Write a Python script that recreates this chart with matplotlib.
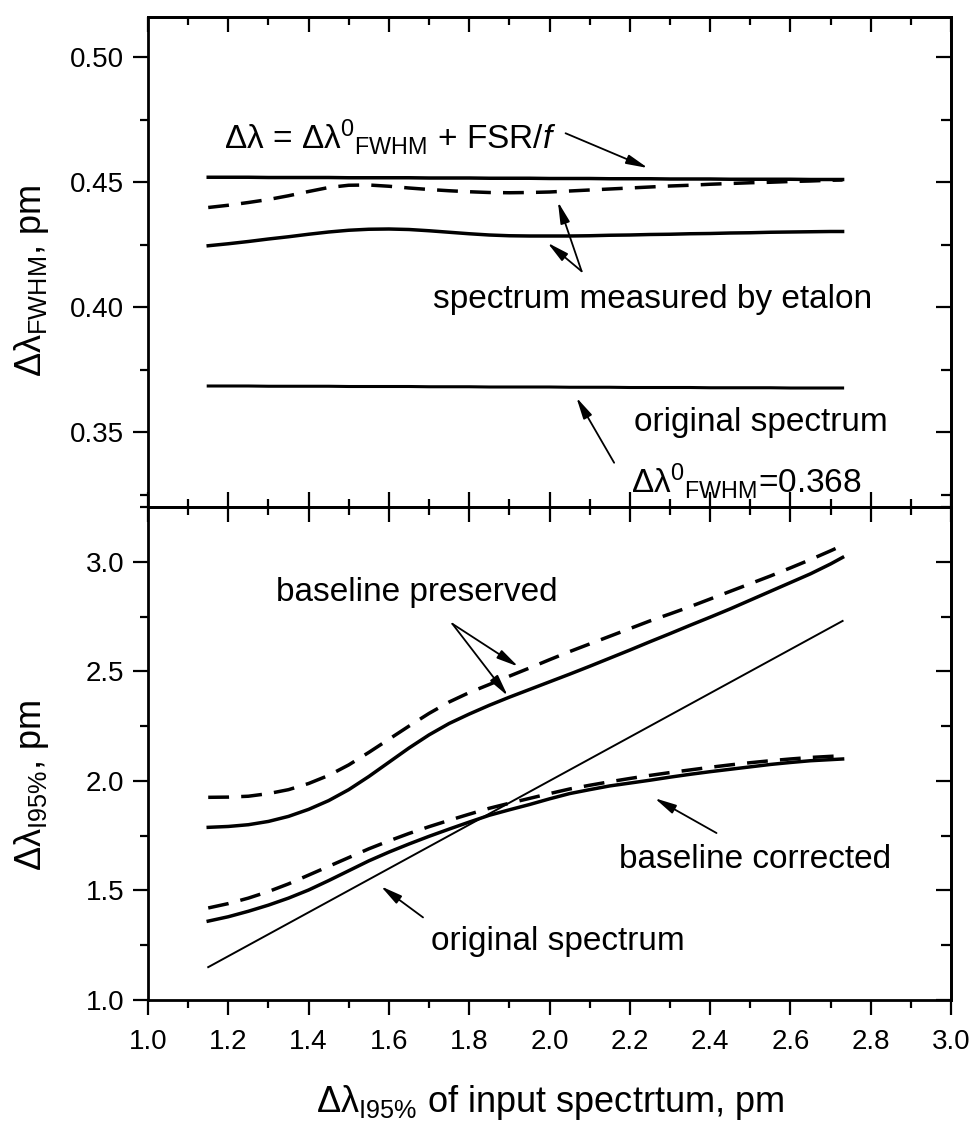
import matplotlib
matplotlib.use("Agg")
import matplotlib.pyplot as plt
from matplotlib.ticker import MultipleLocator, FormatStrFormatter

# ── Style ──────────────────────────────────────────────────────────────────
FONT = "Liberation Sans"
plt.rcParams.update({
    "font.family": [FONT, "DejaVu Sans"],
    "mathtext.fontset": "custom",
    "mathtext.rm": FONT,
    "mathtext.it": FONT + ":italic",
    "mathtext.bf": FONT + ":bold",
    "mathtext.sf": FONT,
    "mathtext.default": "regular",
    "axes.linewidth": 2.0,
})

TICK_SIZE = 20
NOTE_SIZE = 24
LABEL_SIZE = 26
THICK = 2.5
DASH = (6, 3.5)

# ── Data ───────────────────────────────────────────────────────────────────
# input spectral width (pm), shared by every curve
x_in = [1.15, 1.20, 1.25, 1.30, 1.35, 1.40, 1.45, 1.50, 1.55, 1.60, 1.65,
        1.70, 1.75, 1.80, 1.85, 1.90, 1.95, 2.00, 2.05, 2.10, 2.15, 2.20,
        2.25, 2.30, 2.35, 2.40, 2.45, 2.50, 2.55, 2.60, 2.65, 2.70, 2.73]

# upper panel: FWHM (pm)
fwhm_limit = [0.4519, 0.4519, 0.4519, 0.4518, 0.4518, 0.4518, 0.4518, 0.4517, 0.4517,
              0.4517, 0.4517, 0.4516, 0.4516, 0.4516, 0.4515, 0.4515, 0.4515, 0.4514,
              0.4514, 0.4514, 0.4513, 0.4513, 0.4513, 0.4512, 0.4512, 0.4512, 0.4511,
              0.4511, 0.4511, 0.4511, 0.4510, 0.4510, 0.4510]
fwhm_etalon_dash = [0.4398, 0.4407, 0.4418, 0.4430, 0.4445, 0.4462, 0.4478, 0.4487, 0.4488,
                    0.4483, 0.4476, 0.4470, 0.4465, 0.4461, 0.4458, 0.4457, 0.4458, 0.4460,
                    0.4464, 0.4468, 0.4472, 0.4476, 0.4480, 0.4484, 0.4487, 0.4491, 0.4494,
                    0.4497, 0.4499, 0.4502, 0.4504, 0.4507, 0.4508]
fwhm_etalon_solid = [0.4245, 0.4253, 0.4262, 0.4272, 0.4281, 0.4291, 0.4300, 0.4307, 0.4311,
                     0.4312, 0.4310, 0.4305, 0.4299, 0.4293, 0.4288, 0.4285, 0.4284, 0.4284,
                     0.4284, 0.4285, 0.4287, 0.4288, 0.4290, 0.4291, 0.4293, 0.4294, 0.4296,
                     0.4297, 0.4299, 0.4300, 0.4301, 0.4302, 0.4302]
fwhm_original = [0.3684, 0.3684, 0.3684, 0.3683, 0.3683, 0.3683, 0.3683, 0.3682, 0.3682,
                 0.3682, 0.3682, 0.3681, 0.3681, 0.3681, 0.3680, 0.3680, 0.3680, 0.3680,
                 0.3679, 0.3679, 0.3679, 0.3678, 0.3678, 0.3678, 0.3678, 0.3677, 0.3677,
                 0.3677, 0.3677, 0.3676, 0.3676, 0.3676, 0.3676]

# lower panel: width at 95 % of integral (pm)
w95_preserved_solid = [1.788, 1.792, 1.800, 1.815, 1.838, 1.870, 1.910, 1.960, 2.020,
                       2.085, 2.150, 2.210, 2.262, 2.305, 2.345, 2.382, 2.417, 2.452,
                       2.487, 2.523, 2.560, 2.597, 2.635, 2.672, 2.710, 2.747, 2.785,
                       2.825, 2.865, 2.905, 2.945, 2.990, 3.020]
w95_preserved_dash = [1.925, 1.926, 1.930, 1.942, 1.960, 1.988, 2.025, 2.073, 2.130,
                      2.190, 2.250, 2.308, 2.360, 2.403, 2.440, 2.478, 2.515, 2.553,
                      2.590, 2.625, 2.660, 2.695, 2.730, 2.762, 2.795, 2.830, 2.865,
                      2.900, 2.935, 2.972, 3.010, 3.050, 3.075]
w95_corrected_solid = [1.360, 1.380, 1.405, 1.433, 1.465, 1.502, 1.545, 1.590, 1.635,
                       1.675, 1.712, 1.747, 1.780, 1.812, 1.843, 1.868, 1.892, 1.918,
                       1.942, 1.960, 1.977, 1.990, 2.003, 2.017, 2.030, 2.042, 2.053,
                       2.064, 2.075, 2.084, 2.092, 2.097, 2.100]
w95_corrected_dash = [1.420, 1.440, 1.465, 1.495, 1.530, 1.570, 1.610, 1.650, 1.690,
                      1.726, 1.760, 1.791, 1.820, 1.848, 1.875, 1.898, 1.920, 1.942,
                      1.963, 1.980, 1.996, 2.011, 2.025, 2.038, 2.050, 2.062, 2.073,
                      2.083, 2.092, 2.100, 2.107, 2.112, 2.115]
w95_original = [1.15, 1.20, 1.25, 1.30, 1.35, 1.40, 1.45, 1.50, 1.55, 1.60, 1.65,
                1.70, 1.75, 1.80, 1.85, 1.90, 1.95, 2.00, 2.05, 2.10, 2.15, 2.20,
                2.25, 2.30, 2.35, 2.40, 2.45, 2.50, 2.55, 2.60, 2.65, 2.70, 2.73]

# ── Figure ─────────────────────────────────────────────────────────────────
W, H = 970, 1132
fig = plt.figure(figsize=(W / 100, H / 100), dpi=100)
ax_top = fig.add_axes([148 / W, 1 - 507 / H, 803 / W, 490 / H])
ax_bot = fig.add_axes([148 / W, 1 - 1000 / H, 803 / W, 493 / H])

ARROW = dict(arrowstyle="-|>,head_length=1.0,head_width=0.22", mutation_scale=13,
             lw=1.3, color="black", shrinkA=0, shrinkB=0)


def arrow(ax, tail, head):
    ax.annotate("", xy=head, xytext=tail, arrowprops=ARROW)


def style_axes(ax, ymajor, yminor, yfmt, bottom_out):
    ax.set_xlim(1.0, 3.0)
    ax.xaxis.set_major_locator(MultipleLocator(0.2))
    ax.xaxis.set_minor_locator(MultipleLocator(0.1))
    ax.yaxis.set_major_locator(MultipleLocator(ymajor))
    ax.yaxis.set_minor_locator(MultipleLocator(yminor))
    ax.yaxis.set_major_formatter(FormatStrFormatter(yfmt))
    ax.xaxis.set_major_formatter(FormatStrFormatter("%.1f"))
    ax.tick_params(axis="y", which="both", direction="out", left=True, right=False,
                   labelsize=TICK_SIZE, width=1.6, pad=6)
    ax.tick_params(axis="y", which="major", length=11)
    ax.tick_params(axis="y", which="minor", length=6)
    ax.tick_params(axis="x", which="both", direction="out" if bottom_out else "in",
                   top=False, labelsize=TICK_SIZE, width=1.6, pad=10)
    ax.tick_params(axis="x", which="major", length=11)
    ax.tick_params(axis="x", which="minor", length=6)

    # inward ticks on the right (and on top)
    sec_y = ax.secondary_yaxis("right")
    sec_y.yaxis.set_major_locator(MultipleLocator(ymajor))
    sec_y.yaxis.set_minor_locator(MultipleLocator(yminor))
    sec_y.tick_params(which="both", direction="in", labelright=False, width=1.6)
    sec_y.tick_params(which="major", length=11)
    sec_y.tick_params(which="minor", length=7)
    sec_y.spines["right"].set_linewidth(2.0)

    sec_x = ax.secondary_xaxis("top")
    sec_x.xaxis.set_major_locator(MultipleLocator(0.2))
    sec_x.xaxis.set_minor_locator(MultipleLocator(0.1))
    sec_x.tick_params(which="both", direction="in", labeltop=False, width=1.6)
    sec_x.tick_params(which="major", length=11)
    sec_x.tick_params(which="minor", length=6)
    sec_x.spines["top"].set_linewidth(2.0)


# ── Upper panel: FWHM ──────────────────────────────────────────────────────
ax_top.plot(x_in, fwhm_limit, color="black", lw=THICK)
ax_top.plot(x_in, fwhm_etalon_dash, color="black", lw=THICK, dashes=DASH)
ax_top.plot(x_in, fwhm_etalon_solid, color="black", lw=THICK)
ax_top.plot(x_in, fwhm_original, color="black", lw=2.2)
ax_top.set_ylim(0.32, 0.516)
style_axes(ax_top, 0.05, 0.025, "%.2f", bottom_out=False)
ax_top.tick_params(axis="x", labelbottom=False)

ax_top.text(1.19, 0.4632,
            r"$\Delta\lambda$ = $\Delta\lambda^{0}{}_{FWHM}$ + FSR/$\mathit{f}$",
            fontsize=NOTE_SIZE, va="baseline")
arrow(ax_top, (2.04, 0.4695), (2.245, 0.4556))

ax_top.text(1.71, 0.4031, "spectrum measured by etalon", fontsize=NOTE_SIZE, va="center")
arrow(ax_top, (2.080, 0.4143), (2.021, 0.4421))
arrow(ax_top, (2.080, 0.4143), (1.995, 0.4257))

ax_top.text(2.21, 0.354, "original spectrum", fontsize=NOTE_SIZE, va="center")
arrow(ax_top, (2.161, 0.3377), (2.067, 0.3638))
ax_top.text(2.204, 0.3305, r"$\Delta\lambda^{0}{}_{FWHM}$=0.368",
            fontsize=NOTE_SIZE, va="center")

# ── Lower panel: width at 95 % ─────────────────────────────────────────────
ax_bot.plot(x_in, w95_preserved_solid, color="black", lw=THICK)
ax_bot.plot(x_in, w95_preserved_dash, color="black", lw=THICK, dashes=DASH)
ax_bot.plot(x_in, w95_corrected_solid, color="black", lw=THICK)
ax_bot.plot(x_in, w95_corrected_dash, color="black", lw=THICK, dashes=DASH)
ax_bot.plot(x_in, w95_original, color="black", lw=1.4)
ax_bot.set_ylim(1.0, 3.25)
style_axes(ax_bot, 0.5, 0.25, "%.1f", bottom_out=True)

ax_bot.text(1.32, 2.86, "baseline preserved", fontsize=NOTE_SIZE, va="center")
arrow(ax_bot, (1.758, 2.717), (1.922, 2.522))
arrow(ax_bot, (1.758, 2.717), (1.896, 2.388))

ax_bot.text(2.173, 1.639, "baseline corrected", fontsize=NOTE_SIZE, va="center")
arrow(ax_bot, (2.416, 1.762), (2.262, 1.921))

ax_bot.text(1.705, 1.268, "original spectrum", fontsize=NOTE_SIZE, va="center")
arrow(ax_bot, (1.685, 1.377), (1.580, 1.519))

# ── Axis titles ────────────────────────────────────────────────────────────
fig.text(32 / W, 1 - 377 / H, r"$\Delta\lambda_{FWHM}$, pm", rotation=90,
         ha="center", va="bottom", fontsize=LABEL_SIZE)
fig.text(32 / W, 1 - 785 / H, r"$\Delta\lambda_{I95\%}$, pm", rotation=90,
         ha="center", va="center", fontsize=LABEL_SIZE)
fig.text(550 / W, 1 - 1112 / H, r"$\Delta\lambda_{I95\%}$ of input spectrtum, pm",
         ha="center", va="baseline", fontsize=LABEL_SIZE)

fig.savefig("out.png", dpi=100, facecolor="white")
